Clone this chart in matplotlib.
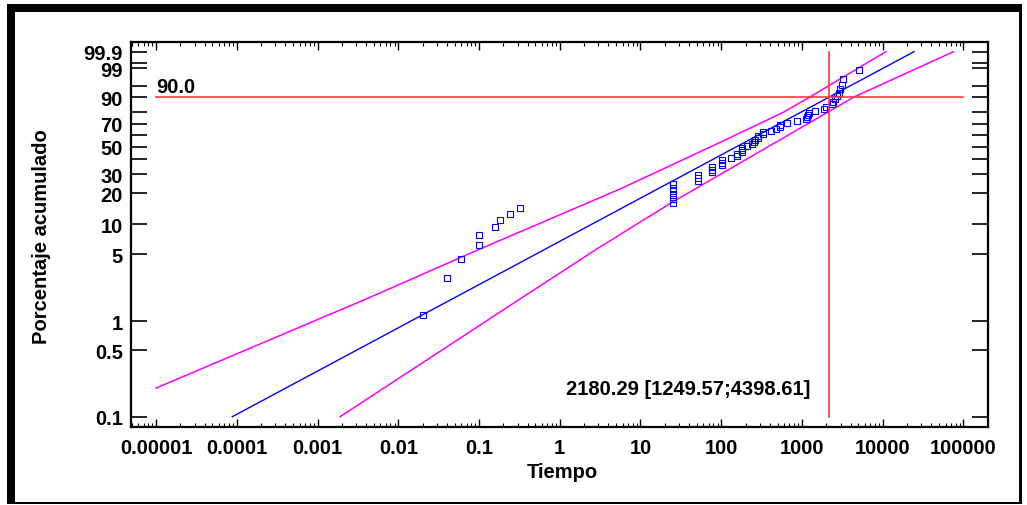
import numpy as np
import matplotlib
matplotlib.use('Agg')
import matplotlib.pyplot as plt
from matplotlib.patches import Rectangle
from matplotlib.ticker import FixedLocator, FixedFormatter, NullFormatter, LogLocator, NullLocator

plt.rcParams['font.family'] = ['Liberation Sans', 'DejaVu Sans']
plt.rcParams['font.weight'] = 'bold'

# ---------------- data ----------------
times = [0.02, 0.04, 0.06, 0.1, 0.1, 0.16, 0.18, 0.24, 0.32,
         25, 25, 25, 25, 25, 25,
         52, 52, 52,
         77, 77, 77,
         102, 102, 102,
         131, 156, 156, 180, 180, 180,
         207, 239, 251, 263, 289, 289, 333, 333, 415, 479,
         531, 540, 649, 863, 1114, 1150, 1190, 1210, 1455, 1897,
         1990, 2330, 2430, 2600, 2720, 2840, 2940, 3100, 3230, 5150]
pct = [1.16, 2.81, 4.47, 6.13, 7.78, 9.44, 11.09, 12.75, 14.40, 16.06,
       17.72, 19.37, 21.03, 22.68, 24.34, 25.99, 27.65, 29.30, 30.96, 32.62,
       34.27, 35.93, 37.58, 39.24, 40.89, 42.55, 44.21, 45.86, 47.52, 49.17,
       50.83, 52.48, 54.14, 55.79, 57.45, 59.11, 60.76, 62.42, 64.07, 65.73,
       67.38, 69.04, 70.70, 72.35, 74.01, 75.66, 77.32, 78.97, 80.63, 82.28,
       83.94, 85.60, 87.25, 88.91, 90.56, 92.22, 93.87, 95.53, 97.19, 98.84]

fit_time = [8.8e-5, 24400]
fit_pct = [0.1, 99.9]

upper_time = [1e-5, 0.0045, 0.103, 5.6, 96.8, 589, 1249.57, 10940]
upper_pct = [0.2, 1.79, 5.65, 22.0, 53.6, 79.7, 90.0, 99.9]

lower_time = [0.0019, 0.323, 2.88, 24.7, 4398.61, 75200]
lower_pct = [0.1, 1.72, 5.65, 16.5, 90.0, 99.9]

ref_pct = 90.0
ref_time = 2180.29
ref_low = 1249.57
ref_high = 4398.61

xtick_vals = [1e-5, 1e-4, 1e-3, 1e-2, 1e-1, 1, 10, 100, 1000, 10000, 100000]
xtick_labels = ['0.00001', '0.0001', '0.001', '0.01', '0.1', '1', '10', '100',
                '1000', '10000', '100000']
ytick_vals = [0.1, 0.5, 1, 5, 10, 20, 30, 40, 50, 60, 70, 80, 90, 95, 99, 99.5, 99.9]
ytick_labels = ['0.1', '0.5', '1', '5', '10', '20', '30', '', '50', '', '70', '',
                '90', '', '99', '', '99.9']

FS = 14.5

# ---------------- figure ----------------
W, H = 1027, 506
fig = plt.figure(figsize=(W / 100, H / 100), dpi=100)
fig.patch.set_facecolor('white')


def px_rect(x0, y0, x1, y1):
    return Rectangle((x0 / W, 1 - y1 / H), (x1 - x0) / W, (y1 - y0) / H,
                     transform=fig.transFigure, facecolor='black',
                     edgecolor='none', zorder=0)


fig.patches.extend([px_rect(7, 5, 15, 505), px_rect(7, 5, 1022, 13),
                    px_rect(1019, 5, 1021.5, 505), px_rect(7, 502.5, 1021.5, 505)])

ax = fig.add_axes([131 / W, 1 - 427.7 / H, (987.7 - 131) / W, (427.7 - 43) / H])


def fwd(p):
    p = np.clip(np.asarray(p, dtype=float) / 100.0, 1e-12, 1 - 1e-12)
    return np.log(-np.log(1 - p))


def inv(w):
    return 100 * (1 - np.exp(-np.exp(np.asarray(w, dtype=float))))


ax.set_xscale('log')
ax.set_yscale('function', functions=(fwd, inv))
ax.set_xlim(10 ** -5.31, 10 ** 5.30)
ax.set_ylim(float(inv(-7.149)), float(inv(2.167)))

magenta = '#ff00ff'
blue = '#0000ff'
red = '#ff3a3a'

ax.plot(upper_time, upper_pct, color=magenta, lw=1.1, zorder=2)
ax.plot(lower_time, lower_pct, color=magenta, lw=1.1, zorder=2)
ax.plot(fit_time, fit_pct, color=blue, lw=1.0, zorder=3)
ax.plot(times, pct, 's', mfc='none', mec=blue, ms=4.0, mew=0.8, zorder=4)
ax.plot([1e-5, 1e5], [ref_pct, ref_pct], color=red, lw=1.2, zorder=5)
ax.plot([ref_time, ref_time], [0.1, 99.9], color=red, lw=1.2, zorder=5)

ax.annotate('%.1f' % ref_pct, xy=(1e-5, ref_pct), xytext=(0, 3.5),
            textcoords='offset points', ha='left', va='baseline',
            fontsize=FS, fontweight='bold')
ax.annotate('%.2f [%.2f;%.2f]' % (ref_time, ref_low, ref_high),
            xy=(ref_time, 0.098), xycoords=('data', 'axes fraction'),
            xytext=(-13.7, 0), textcoords='offset points',
            ha='right', va='center', fontsize=FS, fontweight='bold')

# ticks
ax.xaxis.set_major_locator(FixedLocator(xtick_vals))
ax.xaxis.set_major_formatter(FixedFormatter(xtick_labels))
ax.xaxis.set_minor_locator(LogLocator(base=10, subs=np.arange(2, 10), numticks=100))
ax.xaxis.set_minor_formatter(NullFormatter())
ax.yaxis.set_major_locator(FixedLocator(ytick_vals))
ax.yaxis.set_major_formatter(FixedFormatter(ytick_labels))
ax.yaxis.set_minor_locator(NullLocator())

ax.tick_params(axis='y', which='major', direction='in', length=11.3, width=1.2,
               left=True, right=True, labelsize=FS, pad=5.8)
ax.tick_params(axis='x', which='major', direction='in', length=5.5, width=1.0,
               top=True, bottom=True, labelsize=FS, pad=8.0)
ax.tick_params(axis='x', which='minor', direction='in', length=2.7, width=0.8,
               top=True, bottom=True)
for s in ax.spines.values():
    s.set_linewidth(1.6)

fig.text(562 / W, 1 - 473 / H, 'Tiempo', ha='center', va='center',
         fontsize=FS, fontweight='bold')
fig.text(41.7 / W, 1 - 237 / H, 'Porcentaje acumulado', ha='center', va='center',
         rotation=90, fontsize=FS, fontweight='bold')

fig.savefig('out.png', dpi=100, facecolor='white')
